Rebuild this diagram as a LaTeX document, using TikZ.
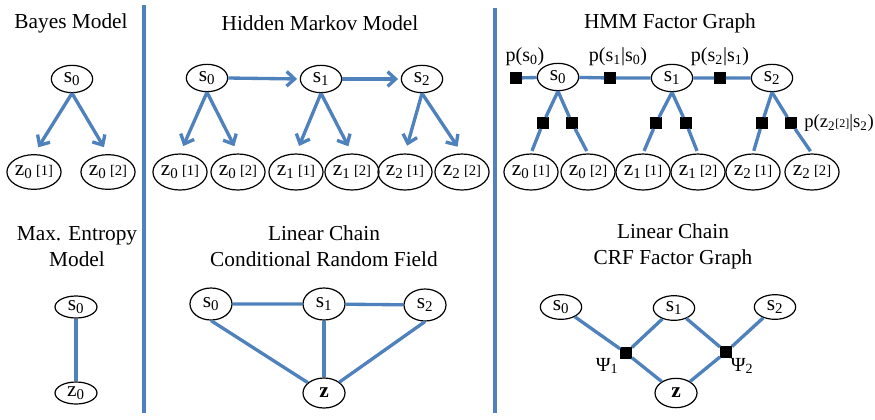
\documentclass[tikz,border=0pt]{standalone}
\usepackage{fontspec}
\setmainfont{Liberation Serif}
\usepackage{tikz}
\usetikzlibrary{arrows.meta, positioning, shapes.geometric}
\definecolor{edgeblue}{RGB}{79,129,189}
\newcommand{\ix}[1]{{\fontsize{11}{11}\selectfont[#1]}}

\begin{document}
\begin{tikzpicture}[x=0.75pt, y=-0.75pt,
  var/.style={ellipse, draw, line width=0.9pt, inner sep=0pt, font=\fontsize{16}{16}\selectfont},
  svar/.style={var, minimum width=31pt, minimum height=20.5pt},
  zvar/.style={var, minimum width=40.5pt, minimum height=27pt},
  link/.style={line width=2.5pt, edgeblue},
  arrow/.style={link, -{Straight Barb[length=6pt, width=11pt]}},
  factor/.style={rectangle, fill=black, minimum size=8.5pt, inner sep=0pt},
  heading/.style={font=\fontsize{16}{19.5}\selectfont, align=center},
  flabel/.style={font=\fontsize{15}{15}\selectfont, inner sep=0pt},
  divider/.style={line width=2.6pt, edgeblue}
]
\useasboundingbox (0,0) rectangle (875,419);
\draw[divider] (144,5) -- (144,413);
\draw[divider] (495,8) -- (495,413);

\node[heading] (tBayes) at (71,23) {Bayes Model};
\node[svar] (bS) at (72,79) {s\textsubscript{0}};
\node[zvar, minimum width=38pt, minimum height=26pt] (bZa) at (34,172) {z\textsubscript{0}\,\ix{1}};
\node[zvar, minimum width=38pt, minimum height=26pt] (bZb) at (108,172) {z\textsubscript{0}\,\ix{2}};
\foreach \z in {bZa,bZb} \draw[arrow, shorten >=6pt] (bS.south) -- (\z.north);

\node[heading] (tHmm) at (320,23) {Hidden Markov Model};
\node[svar] (hS0) at (207,78) {s\textsubscript{0}};
\node[svar] (hS1) at (321,79) {s\textsubscript{1}};
\node[svar] (hS2) at (422,79) {s\textsubscript{2}};
\node[zvar] (hZ0a) at (180,172) {z\textsubscript{0}\,\ix{1}};
\node[zvar] (hZ0b) at (238,172) {z\textsubscript{0}\,\ix{2}};
\node[zvar] (hZ1a) at (296,172) {z\textsubscript{1}\,\ix{1}};
\node[zvar] (hZ1b) at (352,172) {z\textsubscript{1}\,\ix{2}};
\node[zvar] (hZ2a) at (405,172) {z\textsubscript{2}\,\ix{1}};
\node[zvar] (hZ2b) at (462,172) {z\textsubscript{2}\,\ix{2}};
\draw[arrow, shorten >=2pt] (hS0.east) -- (hS1.west);
\draw[arrow, shorten >=2pt] (hS1.east) -- (hS2.west);
\foreach \s/\z in {hS0/hZ0a,hS0/hZ0b,hS1/hZ1a,hS1/hZ1b,hS2/hZ2a,hS2/hZ2b}
  \draw[arrow, shorten >=6pt] (\s.south) -- (\z.north);

\node[heading] (tFg) at (670,23) {HMM Factor Graph};
\node[svar] (fS0) at (558,77) {s\textsubscript{0}};
\node[svar] (fS1) at (672,78) {s\textsubscript{1}};
\node[svar] (fS2) at (772,78) {s\textsubscript{2}};
\node[factor] (fP0) at (516,78) {};
\node[factor] (fT01) at (610,78) {};
\node[factor] (fT12) at (720,78) {};
\node[factor] (fO0a) at (543,123) {};
\node[factor] (fO0b) at (572,123) {};
\node[factor] (fO1a) at (656,123) {};
\node[factor] (fO1b) at (686,123) {};
\node[factor] (fO2a) at (762,123) {};
\node[factor] (fO2b) at (791,123) {};
\node[zvar, minimum width=40pt] (fZ0a) at (531,172) {z\textsubscript{0}\,\ix{1}};
\node[zvar, minimum width=40pt] (fZ0b) at (588,172) {z\textsubscript{0}\,\ix{2}};
\node[zvar, minimum width=40pt] (fZ1a) at (643,172) {z\textsubscript{1}\,\ix{1}};
\node[zvar, minimum width=40pt] (fZ1b) at (698,172) {z\textsubscript{1}\,\ix{2}};
\node[zvar, minimum width=40pt] (fZ2a) at (753,172) {z\textsubscript{2}\,\ix{1}};
\node[zvar, minimum width=40pt] (fZ2b) at (812,172) {z\textsubscript{2}\,\ix{2}};
\draw[link] (fP0) -- (fS0) -- (fT01) -- (fS1) -- (fT12) -- (fS2);
\foreach \s/\f/\z in {fS0/fO0a/fZ0a,fS0/fO0b/fZ0b,fS1/fO1a/fZ1a,fS1/fO1b/fZ1b,fS2/fO2a/fZ2a,fS2/fO2b/fZ2b}
  \draw[link, shorten >=2pt] (\s.south) -- (\f) -- (\z.north);
\node[flabel] (lP0) at (525,57) {p(s\textsubscript{0})};
\node[flabel] (lT01) at (618,57) {p(s\textsubscript{1}|s\textsubscript{0})};
\node[flabel] (lT12) at (720,57) {p(s\textsubscript{2}|s\textsubscript{1})};
\node[flabel, anchor=west, font=\fontsize{14}{14}\selectfont] (lO2b) at (804,123)
  {p(z\textsubscript{2}{\fontsize{9}{9}\selectfont[2]}|s\textsubscript{2})};

\node[heading] (tMax) at (77,247) {Max. Entropy\\Model};
\node[var, minimum width=31.5pt, minimum height=16.5pt] (mS) at (76,307) {s\textsubscript{0}};
\node[var, minimum width=31.5pt, minimum height=16.5pt] (mZ) at (76,393) {z\textsubscript{0}};
\draw[link] (mS.south) -- (mZ.north);

\node[heading] (tCrf) at (324,246) {Linear Chain\\Conditional Random Field};
\node[var, minimum width=31.5pt, minimum height=24pt] (cS0) at (211,304) {s\textsubscript{0}};
\node[var, minimum width=31.5pt, minimum height=24pt] (cS1) at (324,304) {s\textsubscript{1}};
\node[var, minimum width=31.5pt, minimum height=24pt] (cS2) at (425,305) {s\textsubscript{2}};
\node[var, minimum width=31.5pt, minimum height=22.5pt] (cZ) at (324,393) {\textbf{z}};
\draw[link] (cS0) -- (cS1) -- (cS2);
\foreach \s in {cS0,cS1,cS2} \draw[link] (\s.south) -- (cZ);

\node[heading] (tCfg) at (673,246) {Linear Chain\\CRF Factor Graph};
\node[var, minimum width=31pt, minimum height=18.5pt] (gS0) at (561,307) {s\textsubscript{0}};
\node[var, minimum width=31pt, minimum height=18.5pt] (gS1) at (674,308) {s\textsubscript{1}};
\node[var, minimum width=31pt, minimum height=18.5pt] (gS2) at (775,307) {s\textsubscript{2}};
\node[var, minimum width=31.5pt, minimum height=22pt] (gZ) at (676,393) {\textbf{z}};
\node[factor] (gF1) at (626,353) {};
\node[factor] (gF2) at (726,352) {};
\foreach \a/\b in {gS0/gF1,gS1/gF1,gF1/gZ,gS1/gF2,gS2/gF2,gF2/gZ} \draw[link] (\a) -- (\b);
\node[flabel] (lPsi1) at (607,366) {Ψ\textsubscript{1}};
\node[flabel] (lPsi2) at (742,366) {Ψ\textsubscript{2}};
\end{tikzpicture}
\end{document}
